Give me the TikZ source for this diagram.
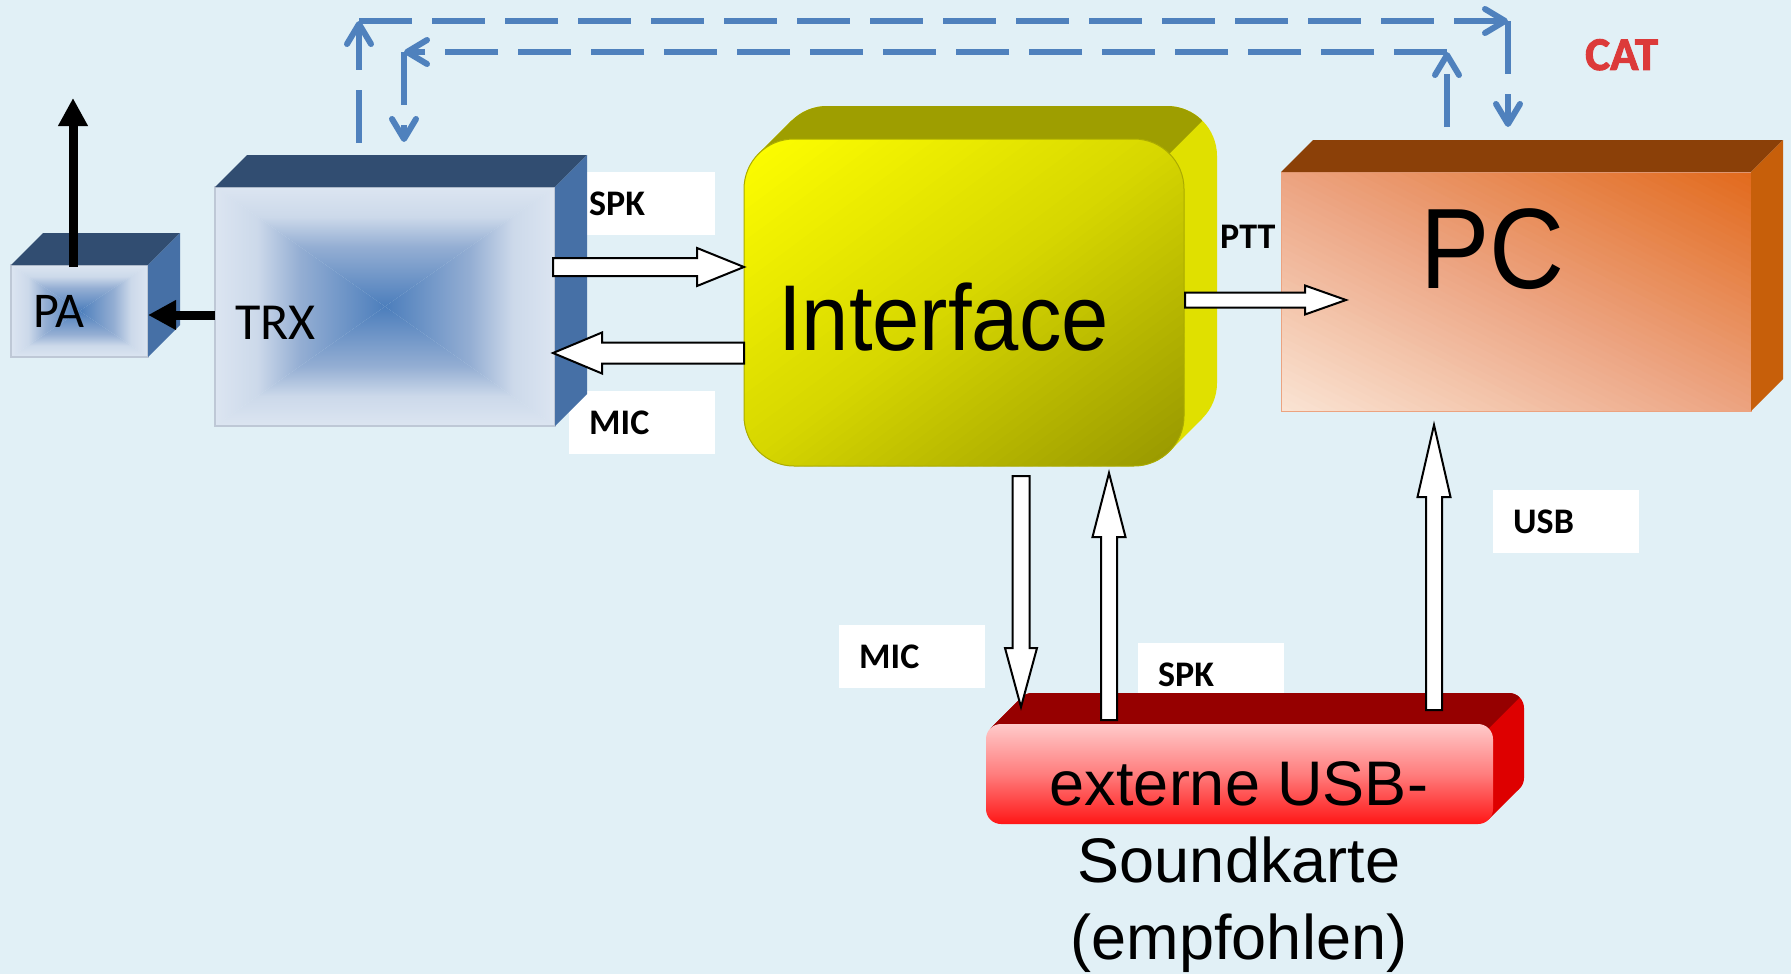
\documentclass[tikz,border=0pt]{standalone}
\usepackage{fontspec}
\usepackage{graphicx}
\setmainfont{Liberation Sans}
\newfontfamily\calfont{Carlito}
\newfontfamily\catfont{Carlito}[BoldFeatures={FakeBold=2}]
\usetikzlibrary{arrows.meta,calc}

\definecolor{bg}{RGB}{225,240,246}
\definecolor{catblue}{RGB}{79,129,189}
\definecolor{trxtop}{RGB}{49,77,113}
\definecolor{trxside}{RGB}{70,112,166}
\definecolor{trxlight}{RGB}{220,229,241}
\definecolor{trxl2}{RGB}{204,217,234}
\definecolor{trxmid}{RGB}{148,174,211}
\definecolor{trxcenter}{RGB}{76,126,188}
\definecolor{trxborder}{RGB}{190,200,214}
\definecolor{iftop}{RGB}{158,158,0}
\definecolor{ifside}{RGB}{224,224,0}
\definecolor{ifhi}{RGB}{255,255,0}
\definecolor{ifmid}{RGB}{214,214,0}
\definecolor{iflo}{RGB}{150,150,0}
\definecolor{pctop}{RGB}{139,64,8}
\definecolor{pcside}{RGB}{199,95,10}
\definecolor{pchi}{RGB}{226,106,28}
\definecolor{pcmid}{RGB}{236,163,128}
\definecolor{pclo}{RGB}{250,228,212}
\definecolor{sctop}{RGB}{150,0,0}
\definecolor{scside}{RGB}{222,0,0}
\definecolor{schi}{RGB}{255,202,202}
\definecolor{scmid}{RGB}{255,125,125}
\definecolor{sclo}{RGB}{255,22,22}
\definecolor{catred}{RGB}{220,58,58}

\pgfdeclareverticalshading{rgN}{100bp}{color(0bp)=(trxcenter); color(25bp)=(trxcenter);
  color(50bp)=(trxmid); color(62.5bp)=(trxl2); color(75bp)=(trxlight); color(100bp)=(trxlight)}

% colour at position t (0..1) between lo, mid, hi -> colour "stc"
\newcommand\dgstripcolor[4]{%
  \pgfmathsetmacro\dgt{#1}%
  \ifdim\dgt pt<0.5pt
    \pgfmathsetmacro\dgpp{200*\dgt}\colorlet{stc}{#3!\dgpp!#2}%
  \else
    \pgfmathsetmacro\dgpp{200*\dgt-100}\colorlet{stc}{#4!\dgpp!#3}%
  \fi}
% diagonal gradient, scaled with the shape, lo at bottom-left, hi at top-right
% args: x0 y0 W H lo mid hi  (pixel coords, y down)
\newcommand\stripsBLTR[7]{%
  \foreach \i in {0,...,63}{%
    \pgfmathsetmacro\dgka{2*\i/64-1}%
    \pgfmathsetmacro\dgkb{2*(\i+1.6)/64-1}%
    \dgstripcolor{(\i+0.5)/64}{#5}{#6}{#7}%
    \fill[stc] ({#1+(\dgka-1)*#3},{#2-#4}) -- ({#1+(\dgka+2)*#3},{#2+2*#4})
      -- ({#1+(\dgkb+2)*#3},{#2+2*#4}) -- ({#1+(\dgkb-1)*#3},{#2-#4}) -- cycle;
  }}
% lo at bottom-right, hi at top-left
\newcommand\stripsBRTL[7]{%
  \foreach \i in {0,...,63}{%
    \pgfmathsetmacro\dgka{2*(1-\i/64)}%
    \pgfmathsetmacro\dgkb{2*(1-(\i+1.6)/64)}%
    \dgstripcolor{(\i+0.5)/64}{#5}{#6}{#7}%
    \fill[stc] ({#1+(\dgka+1)*#3},{#2-#4}) -- ({#1+(\dgka-2)*#3},{#2+2*#4})
      -- ({#1+(\dgkb-2)*#3},{#2+2*#4}) -- ({#1+(\dgkb+1)*#3},{#2-#4}) -- cycle;
  }}

\tikzset{
  rectgrad/.style={path picture={
    \path (path picture bounding box.north west) coordinate (q1)
          (path picture bounding box.north east) coordinate (q2)
          (path picture bounding box.south east) coordinate (q3)
          (path picture bounding box.south west) coordinate (q4)
          (path picture bounding box.center) coordinate (q0);
    \begin{scope}\clip (q1)--(q2)--(q0)--cycle;
      \shade[shading=rgN, shading angle=0] (q1) rectangle (q0 -| q2);\end{scope}
    \begin{scope}\clip (q4)--(q3)--(q0)--cycle;
      \shade[shading=rgN, shading angle=180] (q0 -| q4) rectangle (q3);\end{scope}
    \begin{scope}\clip (q1)--(q4)--(q0)--cycle;
      \shade[shading=rgN, shading angle=90] (q1) rectangle (q0 |- q4);\end{scope}
    \begin{scope}\clip (q2)--(q3)--(q0)--cycle;
      \shade[shading=rgN, shading angle=-90] (q0 |- q2) rectangle (q3);\end{scope}
  }},
  front3d/.style={rectangle, inner sep=0pt, outer sep=0pt, draw=trxborder, line width=1.5pt},
  lbl/.style={fill=white, inner xsep=20pt, inner ysep=0pt, minimum height=63pt,
    text width=106pt, align=left, text height=23pt, text depth=0pt,
    font=\calfont\bfseries\fontsize{36}{40}\selectfont, anchor=north west},
  blockarr/.style={draw=black, line width=2pt, fill=white, line join=miter},
  catline/.style={draw=catblue, line width=6pt, dash pattern=on 53pt off 20pt,
    -{Straight Barb[length=20pt,width=24pt,round]}},
  blk/.style={draw=black, line width=9pt, -{Triangle[length=28pt,width=28pt]}},
  txt/.style={inner sep=0pt, anchor=base west},
}

% block arrow: start, end, half shaft, half head, head length
\newcommand\blockarrow[5]{%
  \coordinate (ba-h) at ($(#2)!#5!(#1)$);
  \draw[blockarr] ($(#1)!#3!90:(#2)$) -- ($(ba-h)!#3!-90:(#1)$) -- ($(ba-h)!#4!-90:(#1)$)
    -- (#2) -- ($(ba-h)!#4!90:(#1)$) -- ($(ba-h)!#3!90:(#1)$) -- ($(#1)!#3!-90:(#2)$) -- cycle;
}

\begin{document}
\begin{tikzpicture}[x=1pt,y=-1pt]
\useasboundingbox (0,0) rectangle (1791,974);
\fill[bg] (0,0) rectangle (1791,974);

% ---------- CAT lines ----------
\coordinate (c1s) at (359,143);
\coordinate (c1a) at (359,21);
\coordinate (c1b) at (1508,21);
\coordinate (c1e) at (1508,127);
\draw[catline] (c1s) -- (c1a);
\draw[catline] (c1a) -- (c1b);
\draw[catline] (c1b) -- (c1e);
\coordinate (c2s) at (1447,127);
\coordinate (c2a) at (1447,52);
\coordinate (c2b) at (404,52);
\coordinate (c2e) at (404,142);
\draw[catline] (c2s) -- (c2a);
\draw[catline] (c2a) -- (c2b);
\draw[catline] (c2b) -- (c2e);

\node[txt, font=\catfont\bfseries\fontsize{47}{50}\selectfont, text=catred] (cat) at (1585,70) {CAT};

% ---------- upper labels ----------
\node[lbl] (lspk) at (569,172) {SPK};
\node[lbl] (lmic) at (569,391) {MIC};

% ---------- PA ----------
\node[front3d, minimum width=137pt, minimum height=92pt, rectgrad] (pa) at (79.5,311) {};
\fill[trxtop] (pa.north west) -- ++(32,-32) -- ($(pa.north east)+(32,-32)$) -- (pa.north east) -- cycle;
\fill[trxside] (pa.north east) -- ++(32,-32) -- ($(pa.south east)+(32,-32)$) -- (pa.south east) -- cycle;
\node[txt, font=\calfont\fontsize{50}{60}\selectfont] (palbl) at (33,327) {PA};

% ---------- TRX ----------
\node[front3d, minimum width=340pt, minimum height=239pt, rectgrad] (trx) at (385,306.5) {};
\fill[trxtop] (trx.north west) -- ++(32,-32) -- ($(trx.north east)+(32,-32)$) -- (trx.north east) -- cycle;
\fill[trxside] (trx.north east) -- ++(32,-32) -- ($(trx.south east)+(32,-32)$) -- (trx.south east) -- cycle;
\node[txt, font=\calfont\fontsize{52}{60}\selectfont] (trxlbl) at (235,339) {TRX};

% ---------- Interface ----------
\fill[ifside, rounded corners=50pt] (777,106) rectangle (1217,433);
\fill[ifside] (758.6,153.6) -- (791.6,120.6) -- (1202.4,418.4) -- (1169.4,451.4) -- cycle;
\begin{scope}
  \clip (700,0) -- (1323,0) -- (700,623) -- cycle;
  \fill[iftop, rounded corners=50pt] (777,106) rectangle (1217,433);
  \fill[iftop] (758.6,153.6) -- (791.6,120.6) -- (1202.4,418.4) -- (1169.4,451.4) -- cycle;
\end{scope}
\begin{scope}
  \clip[rounded corners=50pt] (744,139) rectangle (1184,466);
  \stripsBRTL{744}{139}{440}{327}{iflo}{ifmid}{ifhi}
\end{scope}
\node[rectangle, rounded corners=50pt, minimum width=440pt, minimum height=327pt, inner sep=0pt, outer sep=0pt,
  draw=iflo!80!ifhi, line width=1pt] (iface) at (964,302.5) {};
\node[txt, font=\fontsize{85}{100}\selectfont] (ifacelbl) at (778,350) {\scalebox{1}[1.1]{Interface}};

% ---------- PC ----------
\begin{scope}
  \clip (1281,172) rectangle (1751,411);
  \stripsBLTR{1281}{172}{470}{239}{pclo}{pcmid}{pchi}
\end{scope}
\node[rectangle, minimum width=470pt, minimum height=239pt, inner sep=0pt, outer sep=0pt,
  draw=pcmid, line width=1pt] (pc) at (1516,291.5) {};
\fill[pctop] (pc.north west) -- ++(32,-32) -- ($(pc.north east)+(32,-32)$) -- (pc.north east) -- cycle;
\fill[pcside] (pc.north east) -- ++(32,-32) -- ($(pc.south east)+(32,-32)$) -- (pc.south east) -- cycle;
\node[txt, font=\fontsize{104}{120}\selectfont] (pclbl) at (1420,288) {\scalebox{1}[1.1]{PC}};
\node[txt, font=\calfont\bfseries\fontsize{36}{40}\selectfont] (ptt) at (1220,248) {PTT};

% ---------- lower labels ----------
\node[lbl] (lmic2) at (839,625) {MIC};
\node[lbl] (lspk2) at (1138,643) {SPK};
\node[lbl] (lusb) at (1493,490) {USB};

% ---------- USB sound card ----------
\fill[scside, rounded corners=15pt] (1017,693) rectangle (1524,793);
\fill[scside] (990.4,728.4) -- (1021.4,697.4) -- (1519.6,788.6) -- (1488.6,819.6) -- cycle;
\begin{scope}
  \clip (950,600) -- (1617,600) -- (950,1267) -- cycle;
  \fill[sctop, rounded corners=15pt] (1017,693) rectangle (1524,793);
  \fill[sctop] (990.4,728.4) -- (1021.4,697.4) -- (1519.6,788.6) -- (1488.6,819.6) -- cycle;
\end{scope}
\node[rectangle, rounded corners=15pt, minimum width=507pt, minimum height=100pt, inner sep=0pt, outer sep=0pt,
  top color=schi, bottom color=sclo, middle color=scmid] (sc) at (1239.5,774) {};
\node[anchor=north, align=center, inner sep=0pt, font=\fontsize{63}{77}\selectfont] (sclbl) at (1239,761)
  {externe USB-\\Soundkarte\\(empfohlen)};

% ---------- black arrows ----------
\coordinate (paS) at (73,267);
\coordinate (paT) at (73,98);
\draw[blk] (paS) -- (paT);
\coordinate (trxW) at (215,315);
\coordinate (paE) at (148,315);
\draw[blk] (trxW) -- (paE);

% ---------- block arrows ----------
\coordinate (spkA) at (553,267);  \coordinate (spkB) at (744,267);
\blockarrow{spkA}{spkB}{9pt}{19pt}{47pt}
\coordinate (micA) at (744,353);  \coordinate (micB) at (553,353);
\blockarrow{micA}{micB}{10.5pt}{20.5pt}{49pt}
\coordinate (pttA) at (1185,300); \coordinate (pttB) at (1346,300);
\blockarrow{pttA}{pttB}{7.5pt}{14.5pt}{41pt}
\coordinate (mic2A) at (1021,476); \coordinate (mic2B) at (1021,707);
\blockarrow{mic2A}{mic2B}{8.5pt}{16pt}{59pt}
\coordinate (spk2A) at (1109,720); \coordinate (spk2B) at (1109,473);
\blockarrow{spk2A}{spk2B}{8pt}{16.5pt}{64pt}
\coordinate (usbA) at (1434,710); \coordinate (usbB) at (1434,425);
\blockarrow{usbA}{usbB}{8pt}{16.5pt}{72pt}
\end{tikzpicture}
\end{document}
